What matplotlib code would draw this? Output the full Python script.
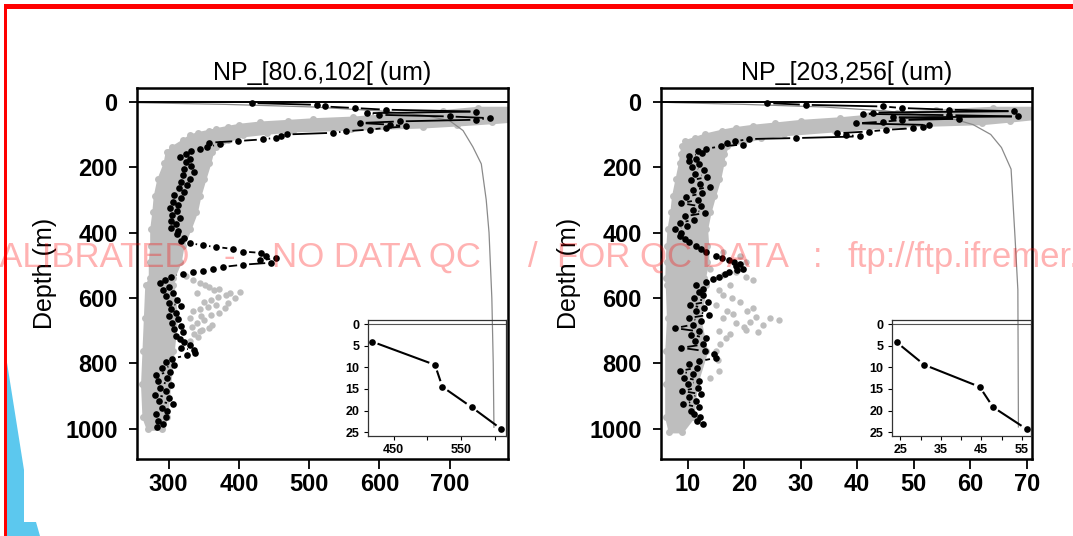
import numpy as np
import matplotlib
matplotlib.use("Agg")
import matplotlib.pyplot as plt
from matplotlib.collections import LineCollection
from matplotlib.patches import Polygon, Rectangle

plt.rcParams['font.family'] = ['Liberation Sans', 'DejaVu Sans']

# ---- profile data -------------------------------------------------------
DEPTH_TICKS = [0, 200, 400, 600, 800, 1000]
DEPTH_TICK_LABELS = ['0', '200', '400', '600', '800', '1000']

# size class 80.6-102 um
LEFT_TITLE = 'NP_[80.6,102[ (um)'
LEFT_XTICKS = [300, 400, 500, 600, 700]
LEFT_XTICK_LABELS = ['300', '400', '500', '600', '700']
LEFT_INSET_XTICKS = [450, 500, 550, 600]
LEFT_INSET_XTICK_LABELS = ['450', '', '550', '']

LEFT_DEPTH = [4.0, 9.4, 14.5, 19.2, 24.3, 30, 35, 40, 45, 50, 55, 60, 65, 70, 75, 80,
              85, 90, 95, 100, 105, 110, 115, 120, 125, 130, 138, 145, 152, 160, 168,
              176, 185, 195, 205, 215, 225, 235, 245, 255, 265, 275, 285, 295, 305,
              315, 325, 335, 345, 355, 365, 375, 385, 395, 405, 415, 425,
              432, 439, 444, 450, 458, 462, 472, 478, 485, 492, 498, 505, 512, 516,
              520, 525,
              535, 545, 555, 565, 575, 585, 595, 605, 615, 625, 635, 645, 655, 665,
              675, 685, 695, 705, 715, 725, 735, 745,
              752, 760, 768, 775,
              785, 795, 805, 815, 825, 835, 845, 855, 865, 875, 885, 895, 905, 915,
              925, 935, 945, 955, 965, 975, 985, 995]
LEFT_VALUE = [418, 511, 522, 565, 609, 738, 582, 600, 700, 757, 738, 629, 572, 615, 638, 610,
              586, 553, 534, 468, 460, 453, 434, 399, 358, 373, 355, 344, 332, 325, 316,
              330, 325, 332, 322, 336, 320, 330, 318, 326, 315, 322, 308, 318, 306,
              314, 302, 312, 305, 316, 303, 310, 304, 314, 312, 322, 318,
              330, 349, 368, 392, 406, 432, 439, 453, 430, 446, 406, 377, 363, 349,
              335, 320,
              303, 295, 288, 300, 292, 306, 296, 312, 300, 318, 304, 310, 300, 314,
              305, 318, 308, 320, 310, 316, 322, 330,
              318, 336, 338, 326,
              305, 296, 308, 290, 302, 282, 298, 285, 304, 288, 296, 280, 300, 286,
              306, 290, 298, 282, 296, 285, 292, 284]

# envelope of the other profiles (grey cloud)
LEFT_BAND_DEPTH = [18, 28, 40, 48, 53, 58, 63, 70, 76, 83, 88, 95, 103, 118, 138, 153,
                   188, 237, 288, 338, 389, 440, 490, 540, 561, 662, 763, 864, 965, 1000]
LEFT_BAND_LOW = [740, 690, 610, 562, 506, 470, 430, 400, 385, 368, 358, 342, 330, 320, 305, 297,
                 294, 285, 280, 278, 275, 275, 273, 273, 268, 266, 264, 262, 264, 270]
LEFT_BAND_HIGH = [790, 790, 790, 790, 790, 790, 760, 710, 662, 560, 477, 440, 406, 385, 368, 362,
                  358, 351, 344, 339, 330, 320, 316, 306, 306, 311, 306, 301, 297, 290]
LEFT_SPRAY_DEPTH = [532, 545, 555, 565, 572, 581, 585, 591, 598, 605, 612, 621, 628, 635, 645,
                    652, 662, 668, 675, 682, 692, 698, 702, 710, 720, 732, 600, 615, 640, 585,
                    560, 575, 630, 655, 690]
LEFT_SPRAY_VALUE = [325, 335, 345, 358, 372, 401, 388, 382, 370, 360, 350, 368, 356, 345, 372,
                    360, 330, 350, 340, 362, 358, 348, 344, 336, 342, 330, 395, 385, 335, 340,
                    352, 365, 380, 346, 333]
LEFT_REF_DEPTH = [1, 3, 8, 16, 28, 42, 58, 88, 138, 190, 300, 400, 600, 800, 995]
LEFT_REF_VALUE = [240, 258, 380, 506, 600, 665, 700, 719, 733, 745, 752, 756, 760, 762, 763]

# size class 203-256 um
RIGHT_TITLE = 'NP_[203,256[ (um)'
RIGHT_XTICKS = [10, 20, 30, 40, 50, 60, 70]
RIGHT_XTICK_LABELS = ['10', '20', '30', '40', '50', '60', '70']
RIGHT_INSET_XTICKS = [25, 30, 35, 40, 45, 50, 55]
RIGHT_INSET_XTICK_LABELS = ['25', '', '35', '', '45', '', '55']

RIGHT_DEPTH = [4.2, 9.4, 14.5, 19.2, 24.3, 29, 33, 37, 41, 45, 48, 52, 56, 61, 66, 71, 76,
               81, 86, 91, 96, 101, 106, 111, 114, 121, 126, 131, 136, 144, 151, 158, 166,
               174, 181,
               190, 200, 210, 220, 230, 240, 250, 260, 270, 280, 290, 300, 310, 320, 330,
               340, 350, 360, 370, 380, 390, 400,
               409, 419, 429, 440, 450, 460, 470, 478, 485, 490, 495, 503, 510, 515, 520,
               528, 535, 543, 550, 561, 571, 581,
               591, 601, 611, 621, 631, 641, 651, 661, 671, 681, 692, 702, 712, 722, 732,
               742, 752, 762, 772, 783, 793, 803, 813, 823, 833, 843, 853, 864, 874, 884,
               894, 904, 914, 924, 934, 944, 954, 965, 975, 985]
RIGHT_VALUE = [24.1, 30.9, 44.6, 47.9, 56.2, 67.8, 42.7, 41.0, 56.3, 68.4, 46.3, 58.0, 48.0,
               44.5, 39.8, 52.7, 51.6, 49.8, 45.1, 42.0, 36.5, 38.0, 40.4, 29.2, 20.9, 18.3,
               17.0, 19.8, 15.9, 13.3, 11.8, 12.5, 10.3, 11.5, 10.3,
               12.0, 10.8, 12.9, 11.4, 13.5, 10.6, 12.2, 13.9, 11.0, 12.6, 9.8, 11.8, 8.9,
               12.4, 10.9, 13.1, 9.5, 11.2, 8.6, 9.9, 7.8, 8.8,
               8.6, 9.6, 10.3, 11.5, 12.4, 13.3, 15.0, 16.0, 17.4, 18.2, 19.2, 18.5, 19.8,
               18.8, 17.4, 16.6, 15.6, 14.5, 13.3, 11.5, 12.8, 12.1,
               12.8, 11.2, 13.6, 10.4, 12.9, 11.5, 13.8, 10.2, 12.4, 11.0, 7.8, 12.0, 10.6,
               13.2, 11.4, 12.8, 8.9, 13.0, 14.6, 15.0, 12.1, 10.2, 11.6, 8.6, 10.9, 9.4,
               12.1, 10.0, 11.8, 9.0, 12.4, 10.2, 11.5, 9.2, 12.0, 10.6, 11.2, 12.2, 11.6, 12.7]

RIGHT_BAND_DEPTH = [18, 26, 34, 42, 50, 58, 66, 73, 80, 88, 100, 110, 120, 136, 160, 187,
                    237, 288, 338, 389, 440, 490, 540, 561, 662, 763, 864, 965, 1008]
RIGHT_BAND_LOW = [64, 54, 47, 42, 37, 30, 25.5, 21.5, 18.5, 16, 13, 11.3, 9.5, 9.0, 8.8, 8.6,
                  8.0, 7.4, 7.1, 6.6, 6.4, 6.3, 6.2, 6.3, 6.5, 6.2, 6.2, 6.2, 6.8]
RIGHT_BAND_HIGH = [71.5, 71.5, 71.5, 71.5, 71.5, 67, 62, 48, 42, 36, 27, 23, 20, 17, 16.4, 16.2,
                   15.6, 14.7, 13.9, 13.3, 13.5, 13.5, 12.9, 13.2, 12.1, 13.3, 11.5, 10.9, 9.0]
RIGHT_SPRAY_DEPTH = [460, 470, 490, 510, 520, 530, 535, 545, 560, 575, 591, 611, 621, 631, 641,
                     650, 657, 662, 662, 667, 672, 682, 690, 697, 702, 710, 722, 740, 763, 790,
                     823, 843, 600, 640, 675, 705]
RIGHT_SPRAY_VALUE = [16.2, 19.2, 20.4, 13.9, 18.6, 16.2, 20.4, 21.5, 17.5, 15.5, 16.2, 19.2, 15.0,
                     21.5, 20.5, 18.0, 22.1, 24.5, 16.2, 26.2, 21.0, 23.3, 20.0, 20.4, 15.6, 17.5,
                     16.8, 15.8, 15.0, 15.4, 15.6, 13.9, 17.8, 17.0, 18.6, 22.4]
RIGHT_REF_DEPTH = [1, 3, 8, 16, 28, 42, 55, 70, 100, 140, 206, 415, 575, 994]
RIGHT_REF_VALUE = [5.0, 8.0, 20.0, 34.0, 45.0, 52.0, 57.5, 60.5, 63.6, 65.5, 67.2, 67.9, 68.4, 68.5]

# ---- layout (pixels of a 1073x536 canvas) ----------------------------------
W, H = 1073, 536
GREY = '#BEBEBE'
WATERMARK = [('UNCALIBRATED', 190, 'right'), ('-', 229, 'center'), ('NO DATA QC', 272, 'left'),
             ('/', 533, 'center'), ('FOR QC DATA', 557, 'left'), (':', 818, 'center'),
             ('ftp://ftp.ifremer.fr/ifremer/argo', 848, 'left')]
BLUE_SHAPE = [(5, 350), (24, 470), (24, 522), (36, 522), (40, 536), (5, 536)]


def px_rect(x0, y0, x1, y1):
    return [x0 / W, 1 - y1 / H, (x1 - x0) / W, (y1 - y0) / H]


def gapped_line(ax, x, y, gap=6.0, **kw):
    """R type='b' style: segments stop short of each point."""
    pts = ax.transData.transform(np.column_stack([x, y]))
    inv = ax.transData.inverted()
    segs = []
    for p, q in zip(pts[:-1], pts[1:]):
        d = q - p
        n = np.hypot(*d)
        if n <= 2 * gap:
            continue
        u = d / n
        segs.append(inv.transform(np.array([p + u * gap, q - u * gap])))
    ax.add_collection(LineCollection(segs, **kw))


def profile_panel(box, xlim, xticks, xlabels, title, band, spray, ref, prof):
    ax = fig.add_axes(px_rect(*box))
    ax.set_xlim(*xlim)
    ax.set_ylim(1092, -42)
    # grey cloud: filled envelope with dotted edges
    ax.fill_betweenx(band[0], band[1], band[2], color=GREY, lw=2, zorder=1)
    ax.plot(band[1], band[0], 'o', color=GREY, ms=5, mec='none', zorder=1)
    ax.plot(band[2], band[0], 'o', color=GREY, ms=5, mec='none', zorder=1)
    ax.plot(spray[1], spray[0], 'o', color=GREY, ms=4.6, mec='none', zorder=1)
    ax.plot(ref[1], ref[0], color='#8a8a8a', lw=0.9, zorder=2)
    ax.axhline(0, color='black', lw=1.4, zorder=2)
    gapped_line(ax, prof[1], prof[0], color='black', lw=1.3, zorder=3)
    ax.plot(prof[1], prof[0], 'o', color='black', ms=4.8, mec='none', zorder=4)

    ax.set_yticks(DEPTH_TICKS, DEPTH_TICK_LABELS, fontsize=17, fontweight='bold')
    ax.set_xticks(xticks, xlabels, fontsize=17, fontweight='bold')
    ax.tick_params(axis='y', length=6, width=1.3, pad=8)
    ax.tick_params(axis='x', length=7, width=1.3, pad=3)
    for s in ax.spines.values():
        s.set_linewidth(1.8)
    ax.set_title(title, fontsize=18, pad=6)
    ax.set_ylabel('Depth (m)', fontsize=18)
    ax.yaxis.set_label_coords(-0.215, 0.5)
    return ax


def inset_panel(box, xlim, xticks, xlabels, prof):
    d = np.asarray(prof[0])
    v = np.asarray(prof[1])
    top = d <= 25
    ax = fig.add_axes(px_rect(*box))
    ax.set_facecolor('none')
    ax.set_xlim(*xlim)
    ax.set_ylim(25.9, -1.0)
    ax.axhline(0, color='#555555', lw=0.8)
    gapped_line(ax, v[top], d[top], gap=6.0, color='black', lw=1.5, zorder=3)
    ax.plot(v[top], d[top], 'o', color='black', ms=4.8, mec='none', zorder=4)
    ax.set_yticks([0, 5, 10, 15, 20, 25], ['0', '5', '10', '15', '20', '25'],
                  fontsize=9, fontweight='bold')
    ax.set_xticks(xticks, xlabels, fontsize=9, fontweight='bold')
    ax.tick_params(length=3, width=0.8, pad=3)
    for s in ax.spines.values():
        s.set_linewidth(0.9)
        s.set_color('#333333')
    return ax


fig = plt.figure(figsize=(W / 100, H / 100), dpi=100)

left_prof = (LEFT_DEPTH, LEFT_VALUE)
right_prof = (RIGHT_DEPTH, RIGHT_VALUE)

profile_panel((137, 88, 508, 459), (255, 783), LEFT_XTICKS, LEFT_XTICK_LABELS, LEFT_TITLE,
              (LEFT_BAND_DEPTH, LEFT_BAND_LOW, LEFT_BAND_HIGH),
              (LEFT_SPRAY_DEPTH, LEFT_SPRAY_VALUE),
              (LEFT_REF_DEPTH, LEFT_REF_VALUE), left_prof)
profile_panel((661, 88, 1032, 459), (5.3, 70.9), RIGHT_XTICKS, RIGHT_XTICK_LABELS, RIGHT_TITLE,
              (RIGHT_BAND_DEPTH, RIGHT_BAND_LOW, RIGHT_BAND_HIGH),
              (RIGHT_SPRAY_DEPTH, RIGHT_SPRAY_VALUE),
              (RIGHT_REF_DEPTH, RIGHT_REF_VALUE), right_prof)

inset_panel((367.5, 320, 506, 436), (411.5, 615.8), LEFT_INSET_XTICKS,
            LEFT_INSET_XTICK_LABELS, left_prof)
inset_panel((891.8, 320, 1031, 436), (22.85, 57.3), RIGHT_INSET_XTICKS,
            RIGHT_INSET_XTICK_LABELS, right_prof)

# watermark across both panels
for txt, x, ha in WATERMARK:
    fig.text(x / W, 1 - 267 / H, txt, fontsize=25, color=(1, 0, 0, 0.3),
             ha=ha, va='baseline', zorder=10)

# frame decoration
fig.add_artist(Polygon([(x / W, 1 - y / H) for x, y in BLUE_SHAPE], closed=True,
                       facecolor='#5CC8EE', edgecolor='none', zorder=11))
fig.add_artist(Rectangle((3.5 / W, 1 - 8.5 / H), 1, 4.5 / H, facecolor='#FF0000',
                         edgecolor='none', zorder=12))
fig.add_artist(Rectangle((3.5 / W, 0), 3.5 / W, 1 - 4 / H, facecolor='#FF0000',
                         edgecolor='none', zorder=12))

fig.savefig('out.png', dpi=100)
